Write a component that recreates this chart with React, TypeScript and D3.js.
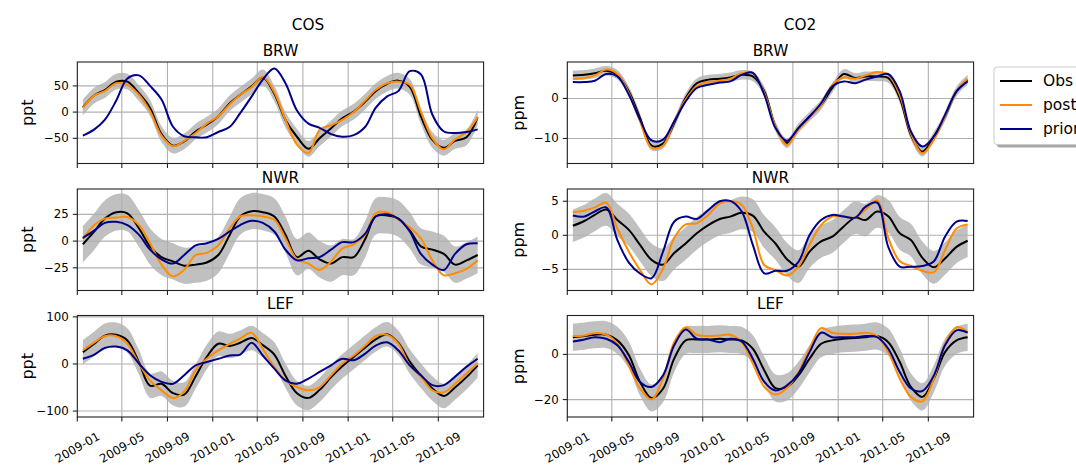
import React from "react";
import * as d3 from "d3";

// monthly values, Jan 2009 .. Dec 2011 (mid-month)
const cosBrwObs = [9, 32, 42, 58, 58, 36, 8, -42, -64, -56, -37, -24, -8, 17, 33, 49, 66, 35, -15, -47, -70, -50, -31, -12, 1, 20, 40, 54, 60, 48, -8, -53, -68, -55, -48, -10];
const cosBrwPost = [8, 32, 40, 55, 52, 33, 2, -45, -65, -55, -40, -22, -8, 15, 33, 48, 67, 38, -15, -62, -78, -34, -25, -15, 0, 22, 42, 55, 58, 52, 1, -50, -71, -52, -38, -10];
const cosBrwPrior = [-45, -33, -15, 22, 64, 70, 50, 24, -28, -46, -48, -48, -38, -28, -2, 30, 62, 83, 55, 3, -22, -30, -42, -47, -44, -28, 8, 30, 40, 78, 72, -5, -37, -40, -38, -33];

const cosNwrObs = [-3, 9, 21, 27, 26, 12, -5, -15, -19, -23, -22, -20, -13, 6, 23, 28, 27, 23, 6, -15, -9, -17, -21, -15, -15, 2, 23, 24, 21, 10, -5, -8, -12, -22, -18, -13];
const cosNwrPost = [2, 15, 21, 22, 22.5, 15, -2, -22, -33, -27, -13, -11, -4, 12, 23, 24, 23, 20, 2.5, -17, -21, -27, -19, -7, -3, 6, 26, 27, 20, 13, 2.5, -18, -32, -30, -26, -18];
const cosNwrPrior = [3, 10, 17, 18, 15, 6, -8, -17, -21, -13, -4, -2, 2, 9, 15, 19, 17, 9, -8, -18, -16, -15, -8, -1, -1, 7, 23, 25, 21, 9, -12, -22, -27, -12, -3, -2];

const cosLefObs = [25, 43, 60, 62, 50, 4, -46, -42, -62, -65, -26, 15, 43, 38, 45, 55, 40, 20, -25, -62, -72, -55, -28, -5, 15, 35, 52, 63, 45, 5, -25, -52, -68, -50, -28, -3];
const cosLefPost = [29, 46, 59, 59, 43, 1, -35, -56, -72, -59, -13, 11, 29, 43, 54, 66, 32, -6, -35, -49, -56, -49, -24, 1, 18, 39, 59, 62, 43, -3, -27, -56, -60, -42, -20, 1];
const cosLefPrior = [11, 20, 34, 37, 29, 1, -24, -38, -42, -24, -3, 4, 11, 18, 20, 45, 18, -10, -35, -42, -31, -17, -3, 11, 8, 22, 39, 46, 29, -3, -24, -45, -45, -27, -6, 11];

const co2BrwObs = [5.75, 5.9, 6.3, 6.9, 5.9, 1.75, -4.9, -11.8, -11.3, -6.2, 0.1, 3.8, 4.7, 4.9, 5.25, 5.9, 5.5, 1.75, -7, -11.2, -7.4, -4.5, -1.6, 2.6, 6.1, 5.1, 5.5, 5.5, 5.1, 0.1, -9.1, -13.3, -9.5, -4.5, 1.75, 4.7];
const co2BrwPost = [4.9, 5.1, 5.75, 7.2, 6.1, 1.3, -5.75, -12.3, -11.8, -5.75, -0.3, 3, 4.1, 4.4, 4.9, 6.3, 6.3, 1.3, -7, -11.6, -7.8, -4.75, -1.6, 3.4, 5.25, 4.9, 5.75, 6.6, 5.9, 0.9, -8.7, -13.7, -10.3, -4.5, 1.75, 4.9];
const co2BrwPrior = [4.1, 4.1, 4.4, 6.1, 5.5, 0.9, -5.3, -10.5, -10.3, -5.75, -0.75, 2.6, 3.4, 4, 4.25, 5.9, 6.4, 0.9, -7.4, -10.6, -7.4, -4.5, -1.2, 3, 4.25, 3.8, 4.7, 5.5, 6.1, 1.75, -8.25, -12, -9.5, -4.1, 1.75, 4.25];

const co2NwrObs = [1.4, 2.1, 3, 3.8, 2.25, 0.8, -1.4, -3.6, -4.3, -2.6, -1.2, 0.3, 1.5, 2.4, 2.75, 3.3, 2.9, 0.5, -1.2, -3.5, -4.6, -2.4, -0.9, -0.2, 1.3, 2.6, 2.25, 3.5, 2.8, 0.3, -0.7, -3.3, -4.7, -3.4, -1.7, -0.8];
const co2NwrPost = [3.4, 3.6, 4.1, 4.8, 1, -2.4, -5.1, -7.2, -4.9, -0.4, 1.6, 1.75, 3, 4.7, 5, 4.5, 1, -4.4, -5.1, -5.9, -4.6, -1.4, 1.5, 2.75, 2.75, 2.6, 3.8, 5.1, -0.4, -3.8, -4.5, -5.2, -5.4, -2.2, 1, 1.6];
const co2NwrPrior = [2.9, 2.75, 3.5, 4.1, -0.7, -4, -5.6, -6.3, -2.4, 2, 2.75, 2.4, 3.7, 5, 5.05, 3.5, -1.4, -5.6, -5.2, -5.2, -3.9, 0.05, 2.25, 3, 2.75, 2.6, 4.2, 4.8, -1.7, -4.6, -4.6, -4.5, -3.8, -0.2, 2, 2.1];

const co2LefObs = [7.6, 8.1, 8.7, 8.7, 6.2, -0.4, -12.2, -19.3, -15.2, -1.9, 6.2, 6.6, 6.6, 6.9, 6.6, 6.2, 2.5, -7.1, -14.9, -14.4, -9.3, -1.9, 4.7, 6.2, 6.9, 7.2, 7.6, 8.1, 5.4, -3.4, -14.4, -18.8, -10.7, 1, 6.2, 7.6];
const co2LefPost = [8.1, 8.4, 9.4, 8.7, 4.7, -4.9, -15.1, -19.9, -10.7, 5.4, 12, 8.7, 8.1, 8.4, 8.7, 5.4, -4.1, -14.4, -17.8, -14.9, -7.8, 2.5, 11.6, 9.6, 9.1, 9.1, 9.6, 8.1, 1, -10.7, -18.8, -20.8, -10.7, 4.7, 12, 9.9];
const co2LefPrior = [5.7, 6.6, 7.6, 6.9, 4, -3.4, -12.2, -14.4, -9.3, 4, 11, 6.9, 6.6, 5.4, 6.9, 5.7, -1.9, -12.2, -16, -13.7, -8.5, 1, 9.6, 7.6, 7.6, 7.6, 8.1, 7.6, 2.5, -7.8, -15.1, -16.2, -9.3, 4, 10.6, 9.6];

// obs uncertainty (half width of the grey band) per panel
const obsErr = { cosBrw: 15, cosNwr: 17, cosLef: 26, co2Brw: 1.2, co2Nwr: 2.4, co2Lef: 6 };

const xTickLabels = ["2009-01", "2009-05", "2009-09", "2010-01", "2010-05", "2010-09", "2011-01", "2011-05", "2011-09"];
const legendLabels = ["Obs", "posterior", "prior"];
const colors = ["#000000", "#ff8c00", "#00008b"];

const dates = d3.timeMonth
  .range(new Date(2009, 0, 1), new Date(2012, 0, 1))
  .map(d => new Date(d.getFullYear(), d.getMonth(), 16));

const cols = [
  { name: "COS", unit: "ppt", x0: 77.3, titleX: 308, labelX: 27 },
  { name: "CO2", unit: "ppm", x0: 567.3, titleX: 800, labelX: 518 },
];
const rows = [
  { site: "BRW", top: 62 },
  { site: "NWR", top: 189 },
  { site: "LEF", top: 315.5 },
];
const W = 406.3;
const H = 101.5;

const panels = [
  { c: 0, r: 0, series: [cosBrwObs, cosBrwPost, cosBrwPrior], err: obsErr.cosBrw, domain: [-98, 95.5], ticks: [-50, 0, 50] },
  { c: 0, r: 1, series: [cosNwrObs, cosNwrPost, cosNwrPrior], err: obsErr.cosNwr, domain: [-46.2, 48.7], ticks: [-25, 0, 25] },
  { c: 0, r: 2, series: [cosLefObs, cosLefPost, cosLefPrior], err: obsErr.cosLef, domain: [-112.6, 102.9], ticks: [-100, 0, 100] },
  { c: 1, r: 0, series: [co2BrwObs, co2BrwPost, co2BrwPrior], err: obsErr.co2Brw, domain: [-16.25, 9.1], ticks: [-10, 0] },
  { c: 1, r: 1, series: [co2NwrObs, co2NwrPost, co2NwrPrior], err: obsErr.co2Nwr, domain: [-8.1, 6.8], ticks: [-5, 0, 5] },
  { c: 1, r: 2, series: [co2LefObs, co2LefPost, co2LefPrior], err: obsErr.co2Lef, domain: [-27.7, 17.2], ticks: [-20, 0] },
];

const font = "DejaVu Sans, sans-serif";
const tickSize = 11.8;
const parseMonth = d3.timeParse("%Y-%m");
const fmt = (v: number) => (v < 0 ? "\u2212" + Math.abs(v) : String(v));

function Panel({ p, idx }: { p: any; idx: number }) {
  const col = cols[p.c];
  const row = rows[p.r];
  const x = d3.scaleTime().domain([new Date(2009, 0, 1), new Date(2012, 0, 1)]).range([col.x0, col.x0 + W]);
  const y = d3.scaleLinear().domain(p.domain).range([row.top + H, row.top]);
  const curve = d3.curveCatmullRom.alpha(0.5);
  const obs = p.series[0];
  const band = d3.area<number>()
    .x((_, i) => x(dates[i]))
    .y0(d => y(d - p.err))
    .y1(d => y(d + p.err))
    .curve(curve);
  const line = d3.line<number>().x((_, i) => x(dates[i])).y(d => y(d)).curve(curve);
  const bottom = row.top + H;
  const clipId = `clip${idx}`;
  return (
    <g>
      <defs>
        <clipPath id={clipId}>
          <rect x={col.x0} y={row.top} width={W} height={H} />
        </clipPath>
      </defs>
      <rect x={col.x0} y={row.top} width={W} height={H} fill="#fff" />
      <g clipPath={`url(#${clipId})`}>
        <path d={band(obs) || ""} fill="#c0c0c0" />
        {xTickLabels.map(t => (
          <line key={t} x1={x(parseMonth(t)!)} x2={x(parseMonth(t)!)} y1={row.top} y2={bottom} stroke="#b0b0b0" strokeWidth={1.1} />
        ))}
        {p.ticks.map((t: number) => (
          <line key={t} x1={col.x0} x2={col.x0 + W} y1={y(t)} y2={y(t)} stroke="#b0b0b0" strokeWidth={1.1} />
        ))}
        {p.series.map((s: number[], i: number) => (
          <path key={i} d={line(s) || ""} fill="none" stroke={colors[i]} strokeWidth={2} strokeLinejoin="round" />
        ))}
      </g>
      <rect x={col.x0} y={row.top} width={W} height={H} fill="none" stroke="#222" strokeWidth={1.1} />
      {xTickLabels.map(t => {
        const tx = x(parseMonth(t)!);
        return (
          <g key={t}>
            <line x1={tx} x2={tx} y1={bottom} y2={bottom + 4.5} stroke="#222" strokeWidth={1.1} />
            {p.r === 2 && (
              <text transform={`translate(${tx},${bottom + 30.5}) rotate(-30)`} textAnchor="middle" dominantBaseline="central" fontSize={tickSize} fontFamily={font} fill="#000">
                {t}
              </text>
            )}
          </g>
        );
      })}
      {p.ticks.map((t: number) => (
        <g key={t}>
          <line x1={col.x0 - 4.5} x2={col.x0} y1={y(t)} y2={y(t)} stroke="#222" strokeWidth={1.1} />
          <text x={col.x0 - 8.5} y={y(t)} textAnchor="end" dominantBaseline="central" fontSize={tickSize} fontFamily={font} fill="#000">
            {fmt(t)}
          </text>
        </g>
      ))}
      <text x={col.x0 + W / 2} y={row.top - 6.5} textAnchor="middle" fontSize={15.3} fontFamily={font} fill="#000">
        {row.site}
      </text>
      <text transform={`translate(${col.labelX},${row.top + H / 2}) rotate(-90)`} textAnchor="middle" dominantBaseline="central" fontSize={16} fontFamily={font} fill="#000">
        {col.unit}
      </text>
    </g>
  );
}

export default function App() {
  const lx = 994;
  const ly = 67;
  return (
    <svg width={1076} height={465} style={{ position: "absolute", left: 0, top: 0, background: "#fff" }}>
      <rect width={1076} height={465} fill="#fff" />
      {cols.map(c => (
        <text key={c.name} x={c.titleX} y={29.6} textAnchor="middle" fontSize={15.3} fontFamily={font} fill="#000">
          {c.name}
        </text>
      ))}
      {panels.map((p, i) => (
        <Panel key={i} p={p} idx={i} />
      ))}
      <g>
        <rect x={lx + 3} y={ly + 3} width={140} height={77.6} rx={3} fill="#000" fillOpacity={0.35} />
        <rect x={lx} y={ly} width={140} height={77.6} rx={3} fill="#fff" stroke="#cccccc" strokeWidth={1} />
        {legendLabels.map((l, i) => (
          <g key={l}>
            <line x1={lx + 6} x2={lx + 38} y1={ly + 14 + i * 24} y2={ly + 14 + i * 24} stroke={colors[i]} strokeWidth={2} />
            <text x={lx + 49} y={ly + 14 + i * 24} dominantBaseline="central" fontSize={15.5} fontFamily={font} fill="#000">
              {l}
            </text>
          </g>
        ))}
      </g>
    </svg>
  );
}
